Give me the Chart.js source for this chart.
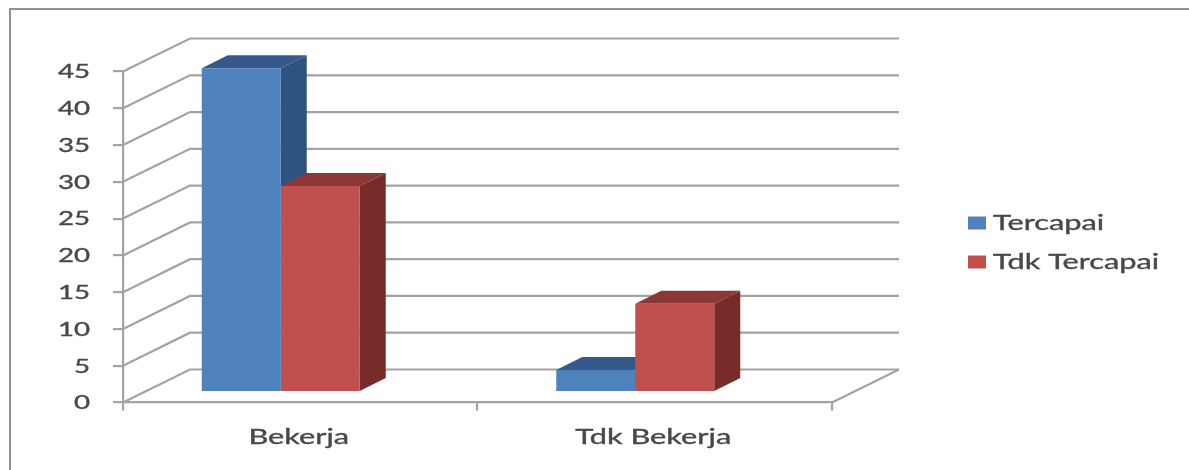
<!DOCTYPE html>
<html>
<head>
<meta charset="utf-8">
<style>
  html, body { margin: 0; padding: 0; background: #fff; }
  canvas { display: block; }
</style>
<script src="https://cdn.jsdelivr.net/npm/chart.js@4"></script>
</head>
<body>
<canvas id="chart" width="1189" height="470"></canvas>
<script>
const categories = ["Bekerja", "Tdk Bekerja"];
const seriesNames = ["Tercapai", "Tdk Tercapai"];
const tercapai = [44, 3];
const tdkTercapai = [28, 12];
const yMax = 45;
const yStep = 5;

const frontColors = ["#4F81BD", "#C0504D"];
const sideColors = ["#2F5380", "#772C2A"];
const topColors = ["#35598A", "#8C3836"];
const gridColor = "#A3A3A3";
const textColor = "#484848";
const tickFont = { spec: "19.5px Lato", stretch: 1.42 };
const labelFont = { spec: "20.5px Lato", stretch: 1.5 };

// Oblique offset of the back wall and of each bar's depth
const wall = { dx: 67, dy: -33 };
const barDepth = { dx: 26, dy: -13 };
const barShift = { dx: -19.5, dy: -10.5 };

function stretchedText(ctx, text, x, y, align, font) {
  ctx.save();
  ctx.translate(x, y);
  ctx.scale(font.stretch, 1);
  ctx.font = font.spec;
  ctx.fillStyle = textColor;
  ctx.strokeStyle = textColor;
  ctx.lineWidth = 0.35;
  ctx.textAlign = align;
  ctx.textBaseline = "middle";
  ctx.fillText(text, 0, 0);
  ctx.strokeText(text, 0, 0);
  ctx.restore();
}

function line(ctx, pts) {
  ctx.beginPath();
  pts.forEach((p, i) => (i ? ctx.lineTo(p[0], p[1]) : ctx.moveTo(p[0], p[1])));
  ctx.stroke();
}

function poly(ctx, pts, fill) {
  ctx.beginPath();
  pts.forEach((p, i) => (i ? ctx.lineTo(p[0], p[1]) : ctx.moveTo(p[0], p[1])));
  ctx.closePath();
  ctx.fillStyle = fill;
  ctx.fill();
}

const obliqueChart = {
  id: "obliqueChart",
  beforeDraw(chart) {
    const { ctx, chartArea: a, scales: { y } } = chart;
    // Outer frame: top and left edges
    ctx.save();
    ctx.strokeStyle = "#929292";
    ctx.lineWidth = 2;
    line(ctx, [[10, 470], [10, 9], [1189, 9]]);

    // Side wall, back wall and floor rules
    ctx.strokeStyle = gridColor;
    ctx.lineWidth = 2.2;
    y.ticks.forEach(t => {
      const py = y.getPixelForValue(t.value);
      line(ctx, [[a.left, py], [a.left + wall.dx, py + wall.dy], [a.right + wall.dx, py + wall.dy]]);
    });
    line(ctx, [[a.right, a.bottom], [a.right + wall.dx, a.bottom + wall.dy]]);
    ctx.restore();
  },
  beforeDatasetsDraw(chart) {
    const { ctx } = chart;
    ctx.save();
    ctx.translate(barShift.dx, barShift.dy);
    // Depth faces go first so the front faces sit on top of them
    chart.data.datasets.forEach((ds, di) => {
      chart.getDatasetMeta(di).data.forEach(bar => {
        const l = bar.x - bar.width / 2, r = bar.x + bar.width / 2;
        const d = barDepth;
        poly(ctx, [[r, bar.y], [r + d.dx, bar.y + d.dy], [r + d.dx, bar.base + d.dy], [r, bar.base]], sideColors[di]);
        poly(ctx, [[l, bar.y], [l + d.dx, bar.y + d.dy], [r + d.dx, bar.y + d.dy], [r, bar.y]], topColors[di]);
      });
    });
  },
  afterDatasetsDraw(chart) {
    chart.ctx.restore();
  },
  afterDraw(chart) {
    const { ctx, scales: { x, y } } = chart;
    y.ticks.forEach(t => stretchedText(ctx, String(t.value), 90, y.getPixelForValue(t.value) + 0.5, "right", tickFont));
    categories.forEach((c, i) => stretchedText(ctx, c, x.getPixelForValue(i) - 1.5, 437, "center", labelFont));

    // Legend entries
    const rows = [223, 262];
    seriesNames.forEach((name, i) => {
      ctx.fillStyle = frontColors[i];
      ctx.fillRect(968, rows[i] - 6.5, 18, 13);
      stretchedText(ctx, name, 993, rows[i], "left", labelFont);
    });
  }
};

new Chart(document.getElementById("chart"), {
  type: "bar",
  data: {
    labels: categories,
    datasets: [
      { label: seriesNames[0], data: tercapai, backgroundColor: frontColors[0] },
      { label: seriesNames[1], data: tdkTercapai, backgroundColor: frontColors[1] }
    ]
  },
  options: {
    responsive: false,
    animation: false,
    events: [],
    layout: { padding: { left: 123, right: 357, top: 71.5, bottom: 67.5 } },
    datasets: { bar: { categoryPercentage: 0.4457, barPercentage: 1, clip: false } },
    plugins: { legend: { display: false }, tooltip: { enabled: false }, title: { display: false } },
    scales: {
      x: {
        afterFit(s) { s.height = 0; },
        ticks: { display: false },
        border: { color: gridColor, width: 2.2 },
        grid: { drawOnChartArea: false, tickLength: 8, color: gridColor, lineWidth: 2.2 }
      },
      y: {
        min: 0,
        max: yMax,
        afterFit(s) { s.width = 0; },
        ticks: { display: false, stepSize: yStep },
        border: { color: gridColor, width: 2.2 },
        grid: { drawOnChartArea: false, tickLength: 10, color: gridColor, lineWidth: 2.2 }
      }
    }
  },
  plugins: [obliqueChart]
});
</script>
</body>
</html>
